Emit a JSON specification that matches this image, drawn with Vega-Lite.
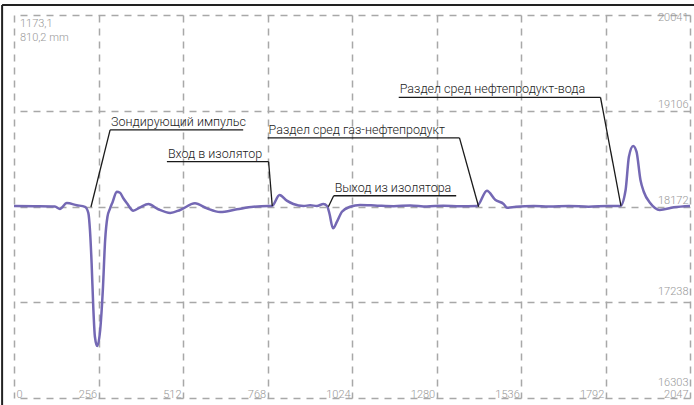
{
  "$schema": "https://vega.github.io/schema/vega-lite/v6.json",
  "width": 676,
  "height": 383,
  "autosize": {"type": "none"},
  "padding": {"left": 14, "top": 15, "right": 4, "bottom": 7},
  "background": "white",
  "config": {"view": {"stroke": null}},
  "datasets": {
    "signal": [
      {"n": 0, "v": 18177}, {"n": 60, "v": 18175}, {"n": 124, "v": 18172}, {"n": 139, "v": 18148},
      {"n": 160, "v": 18205}, {"n": 190, "v": 18185}, {"n": 215, "v": 18168}, {"n": 225, "v": 18110},
      {"n": 230, "v": 17943}, {"n": 235, "v": 17621}, {"n": 240, "v": 17194}, {"n": 245, "v": 16901},
      {"n": 252, "v": 16810}, {"n": 261, "v": 16967}, {"n": 269, "v": 17357}, {"n": 276, "v": 17845},
      {"n": 283, "v": 18072}, {"n": 291, "v": 18154}, {"n": 299, "v": 18219}, {"n": 311, "v": 18316},
      {"n": 321, "v": 18306}, {"n": 331, "v": 18252}, {"n": 342, "v": 18203}, {"n": 361, "v": 18131},
      {"n": 382, "v": 18164}, {"n": 407, "v": 18196}, {"n": 437, "v": 18145}, {"n": 473, "v": 18109},
      {"n": 503, "v": 18138}, {"n": 548, "v": 18203}, {"n": 584, "v": 18154}, {"n": 624, "v": 18118},
      {"n": 675, "v": 18145}, {"n": 725, "v": 18170}, {"n": 771, "v": 18177}, {"n": 781, "v": 18177},
      {"n": 804, "v": 18284}, {"n": 826, "v": 18229}, {"n": 846, "v": 18196}, {"n": 877, "v": 18177},
      {"n": 897, "v": 18184}, {"n": 917, "v": 18177}, {"n": 937, "v": 18196}, {"n": 948, "v": 18177},
      {"n": 955, "v": 18106}, {"n": 966, "v": 17959}, {"n": 978, "v": 18024}, {"n": 993, "v": 18121},
      {"n": 1018, "v": 18170}, {"n": 1048, "v": 18187}, {"n": 1100, "v": 18180}, {"n": 1150, "v": 18175},
      {"n": 1200, "v": 18182}, {"n": 1250, "v": 18172}, {"n": 1300, "v": 18180}, {"n": 1350, "v": 18175},
      {"n": 1402, "v": 18177}, {"n": 1432, "v": 18326}, {"n": 1458, "v": 18235}, {"n": 1483, "v": 18196},
      {"n": 1493, "v": 18160}, {"n": 1520, "v": 18170}, {"n": 1574, "v": 18177}, {"n": 1620, "v": 18172},
      {"n": 1680, "v": 18178}, {"n": 1740, "v": 18170}, {"n": 1800, "v": 18178}, {"n": 1836, "v": 18177},
      {"n": 1852, "v": 18333}, {"n": 1862, "v": 18658}, {"n": 1875, "v": 18763}, {"n": 1885, "v": 18707},
      {"n": 1897, "v": 18431}, {"n": 1907, "v": 18316}, {"n": 1927, "v": 18203}, {"n": 1955, "v": 18138},
      {"n": 1998, "v": 18164}, {"n": 2047, "v": 18177}
    ],
    "segs": [
      {"x": 291, "y": 18919, "x2": 694, "y2": 18919},
      {"x": 291, "y": 18919, "x2": 233, "y2": 18167},
      {"x": 463, "y": 18609, "x2": 771, "y2": 18609},
      {"x": 771, "y": 18609, "x2": 782, "y2": 18177},
      {"x": 768, "y": 18842, "x2": 1349, "y2": 18842},
      {"x": 1349, "y": 18842, "x2": 1407, "y2": 18170},
      {"x": 968, "y": 18277, "x2": 1339, "y2": 18277},
      {"x": 968, "y": 18277, "x2": 952, "y2": 18170},
      {"x": 1165, "y": 19238, "x2": 1776, "y2": 19238},
      {"x": 1776, "y": 19238, "x2": 1838, "y2": 18177}
    ],
    "notes": [
      {"x": 294, "y": 18955, "label": "Зондирующий импульс"},
      {"x": 466, "y": 18645, "label": "Вход в изолятор"},
      {"x": 771, "y": 18880, "label": "Раздел сред газ-нефтепродукт"},
      {"x": 971, "y": 18313, "label": "Выход из изолятора"},
      {"x": 1168, "y": 19275, "label": "Раздел сред нефтепродукт-вода"}
    ],
    "info": [
      {"x": 18, "y": 19924, "label": "1173,1"},
      {"x": 18, "y": 19787, "label": "810,2  mm"}
    ],
    "frame": [
      {"x": -36, "y": 20139, "x2": 2200, "y2": 20139},
      {"x": -36, "y": 20139, "x2": -36, "y2": 15400}
    ]
  },
  "layer": [
    {
      "data": {"name": "signal"},
      "mark": {"type": "line", "interpolate": "monotone", "color": "#7468b4", "strokeWidth": 2.5},
      "encoding": {
        "x": {
          "field": "n", "type": "quantitative",
          "scale": {"domain": [0, 2047], "nice": false, "zero": false},
          "axis": {
            "values": [0, 256, 512, 768, 1024, 1280, 1536, 1792, 2047],
            "format": "d",
            "title": null, "grid": true, "gridDash": [7, 6], "gridColor": "#a8a8a8", "gridWidth": 1.5,
            "domain": false, "ticks": false, "tickSize": 0,
            "labelPadding": -1, "labelBaseline": "alphabetic", "labelAlign": "right",
            "labelOffset": {"condition": {"test": "datum.value === 0", "value": 8}, "value": -2},
            "labelFlush": false, "labelOverlap": false, "labelBound": false,
            "labelColor": "#999999", "labelFontSize": 11, "labelFontWeight": 300,
            "labelFont": "Roboto"
          }
        },
        "y": {
          "field": "v", "type": "quantitative",
          "scale": {"domain": [16303, 20041], "nice": false, "zero": false},
          "axis": {
            "orient": "right",
            "values": [16303, 17238, 18172, 19106, 20041],
            "format": "d",
            "title": null, "grid": true, "gridDash": [7, 6], "gridColor": "#a8a8a8", "gridWidth": 1.5,
            "domain": false, "ticks": false, "tickSize": 0,
            "labelPadding": -2, "labelBaseline": "alphabetic", "labelAlign": "right",
            "labelOffset": {"condition": [
              {"test": "datum.value === 20041", "value": 5},
              {"test": "datum.value === 16303", "value": -13},
              {"test": "datum.value === 17238", "value": -8}
            ], "value": -3},
            "labelFlush": false, "labelOverlap": false, "labelBound": false,
            "labelColor": "#999999", "labelFontSize": 11, "labelFontWeight": 300,
            "labelFont": "Roboto"
          }
        }
      }
    },
    {
      "data": {"name": "segs"},
      "mark": {"type": "rule", "color": "#1a1a1a", "strokeWidth": 1.3},
      "encoding": {
        "x": {"field": "x", "type": "quantitative", "scale": {"domain": [0, 2047], "nice": false, "zero": false}},
        "y": {"field": "y", "type": "quantitative", "scale": {"domain": [16303, 20041], "nice": false, "zero": false}},
        "x2": {"field": "x2"},
        "y2": {"field": "y2"}
      }
    },
    {
      "data": {"name": "notes"},
      "mark": {"type": "text", "align": "left", "baseline": "alphabetic", "fontSize": 12.5, "fontWeight": 300, "color": "#222222",
               "font": "Roboto"},
      "encoding": {
        "x": {"field": "x", "type": "quantitative", "scale": {"domain": [0, 2047], "nice": false, "zero": false}},
        "y": {"field": "y", "type": "quantitative", "scale": {"domain": [16303, 20041], "nice": false, "zero": false}},
        "text": {"field": "label"}
      }
    },
    {
      "data": {"name": "info"},
      "mark": {"type": "text", "align": "left", "baseline": "alphabetic", "fontSize": 11, "fontWeight": 300, "color": "#999999",
               "font": "Roboto"},
      "encoding": {
        "x": {"field": "x", "type": "quantitative", "scale": {"domain": [0, 2047], "nice": false, "zero": false}},
        "y": {"field": "y", "type": "quantitative", "scale": {"domain": [16303, 20041], "nice": false, "zero": false}},
        "text": {"field": "label"}
      }
    },
    {
      "data": {"name": "frame"},
      "mark": {"type": "rule", "color": "#222222", "strokeWidth": 2},
      "encoding": {
        "x": {"field": "x", "type": "quantitative", "scale": {"domain": [0, 2047], "nice": false, "zero": false}},
        "y": {"field": "y", "type": "quantitative", "scale": {"domain": [16303, 20041], "nice": false, "zero": false}},
        "x2": {"field": "x2"},
        "y2": {"field": "y2"}
      }
    }
  ]
}
